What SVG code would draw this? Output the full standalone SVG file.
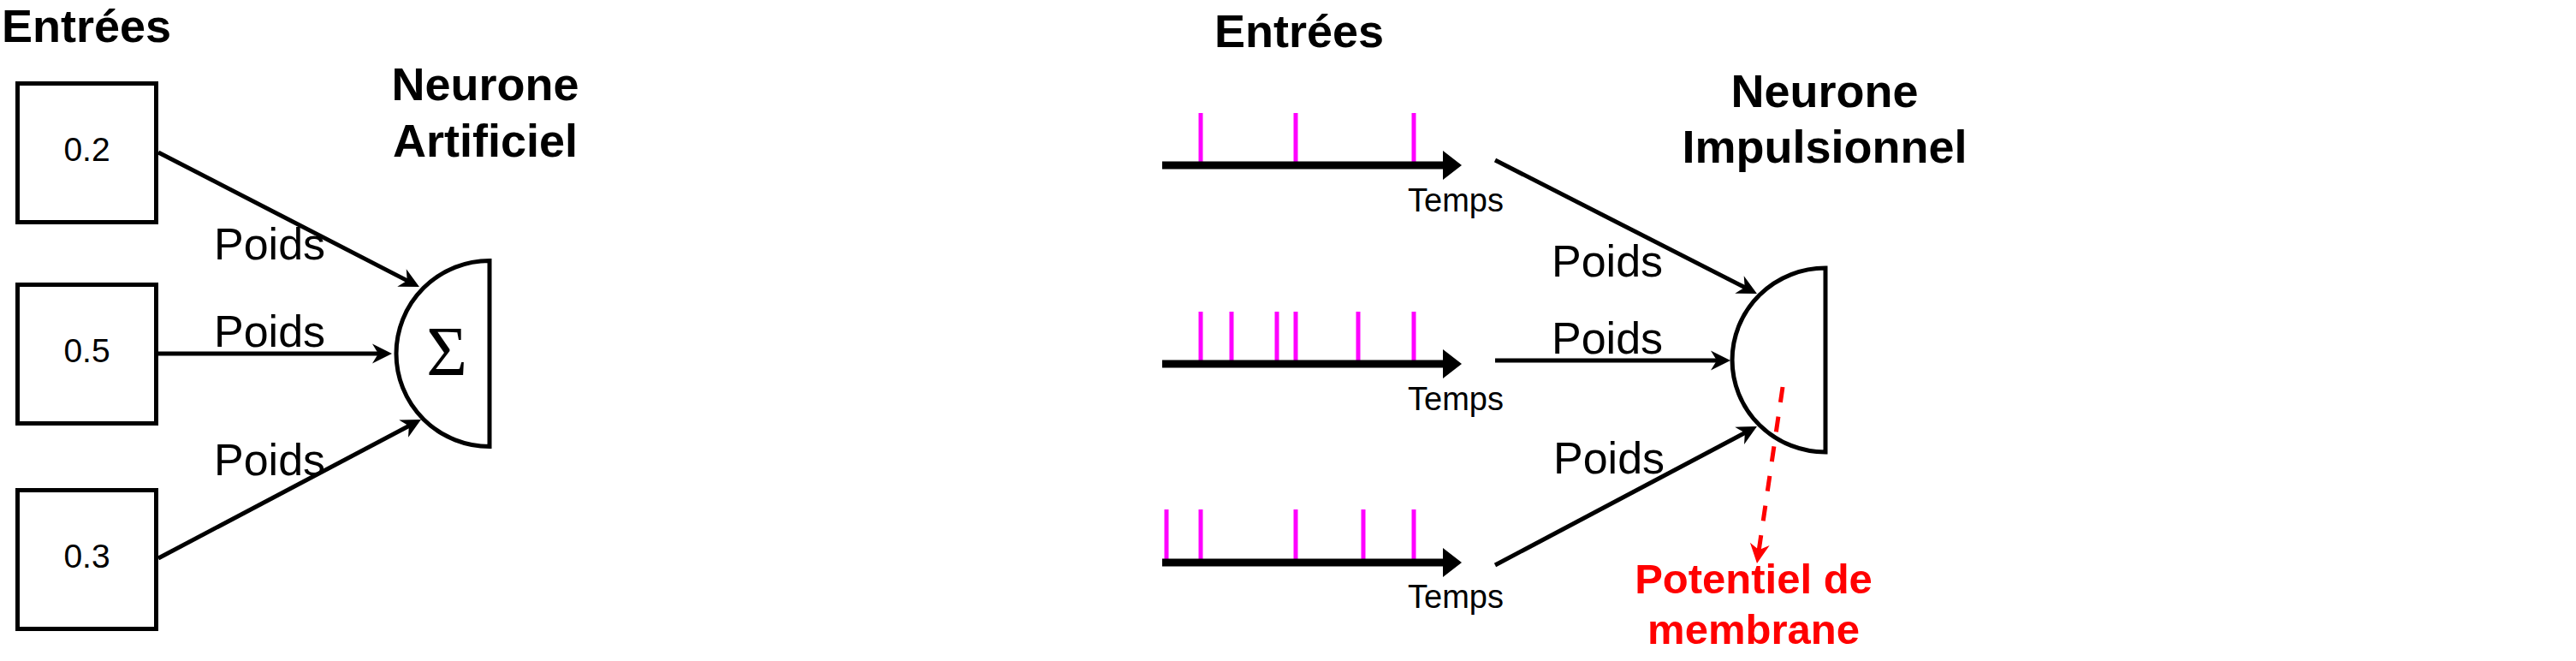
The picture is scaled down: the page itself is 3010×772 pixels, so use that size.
<svg xmlns="http://www.w3.org/2000/svg" width="3010" height="772" viewBox="0 0 3010 772">
<style>
text{font-family:"Liberation Sans",Arial,sans-serif;fill:#000}
.title{font-size:54px;font-weight:bold;text-anchor:middle}
.val{font-size:39px;text-anchor:middle}
.poids{font-size:52px}
.temps{font-size:38px}
.red{font-size:49px;font-weight:bold;fill:#FF0000;text-anchor:middle}
.box{fill:#fff;stroke:#000;stroke-width:5}
.neuron{fill:none;stroke:#000;stroke-width:5;stroke-linejoin:miter}
.conn{stroke:#000;stroke-width:5;fill:none;marker-end:url(#arr)}
.axis{stroke:#000;stroke-width:9;fill:none;marker-end:url(#tri)}
.spike{stroke:#FF00FF;stroke-width:5}
.dash{stroke:#FF0000;stroke-width:5;fill:none;stroke-dasharray:18 17;marker-end:url(#arrRed)}
</style>
<defs>
<marker id="arr" markerUnits="userSpaceOnUse" markerWidth="40" markerHeight="40" viewBox="-20 -20 40 40" refX="0" refY="0" orient="auto" overflow="visible">
<path d="M14,0 L-9,-11.5 L-2,0 L-9,11.5 Z" fill="#000"/>
</marker>
<marker id="arrRed" markerUnits="userSpaceOnUse" markerWidth="40" markerHeight="40" viewBox="-20 -20 40 40" refX="0" refY="0" orient="auto" overflow="visible">
<path d="M14,0 L-9,-11.5 L-2,0 L-9,11.5 Z" fill="#FF0000"/>
</marker>
<marker id="tri" markerUnits="userSpaceOnUse" markerWidth="40" markerHeight="40" viewBox="-20 -20 40 40" refX="0" refY="0" orient="auto" overflow="visible">
<path d="M0,-17 L22,0 L0,17 Z" fill="#000"/>
</marker>
</defs>

<!-- Left: artificial neuron -->
<g id="label-entrees-left"><text class="title" x="101" y="49">Entrées</text></g>
<g id="input-02"><rect class="box" x="20.5" y="97.5" width="162" height="162"/><text class="val" x="101.5" y="188">0.2</text></g>
<g id="input-05"><rect class="box" x="20.5" y="332.5" width="162" height="162"/><text class="val" x="101.5" y="423">0.5</text></g>
<g id="input-03"><rect class="box" x="20.5" y="572.5" width="162" height="162"/><text class="val" x="101.5" y="663">0.3</text></g>
<g id="label-neurone-artificiel"><text class="title" x="567" y="117">Neurone</text><text class="title" x="567" y="183">Artificiel</text></g>
<g id="neuron-artificial">
<path class="neuron" d="M572,304.5 A109,108.5 0 0 0 572,521.5 Z"/>
<text x="522" y="438" style="font-family:'Liberation Serif','Times New Roman',serif;font-size:82px;text-anchor:middle">Σ</text>
</g>
<g id="poids-left">
<text class="poids" x="250" y="303">Poids</text>
<text class="poids" x="250" y="405">Poids</text>
<text class="poids" x="250" y="555">Poids</text>
</g>

<!-- Right: spiking neuron -->
<g id="label-entrees-right"><text class="title" x="1518" y="55">Entrées</text></g>
<g id="spike-train-1">
<line class="spike" x1="1403" y1="132" x2="1403" y2="189"/>
<line class="spike" x1="1514" y1="132" x2="1514" y2="189"/>
<line class="spike" x1="1652" y1="132" x2="1652" y2="189"/>
<line class="axis" x1="1358" y1="193" x2="1686" y2="193"/>
<text class="temps" x="1645" y="247">Temps</text>
</g>
<g id="spike-train-2">
<line class="spike" x1="1403" y1="364" x2="1403" y2="421"/>
<line class="spike" x1="1439" y1="364" x2="1439" y2="421"/>
<line class="spike" x1="1492" y1="364" x2="1492" y2="421"/>
<line class="spike" x1="1514" y1="364" x2="1514" y2="421"/>
<line class="spike" x1="1587" y1="364" x2="1587" y2="421"/>
<line class="spike" x1="1652" y1="364" x2="1652" y2="421"/>
<line class="axis" x1="1358" y1="425" x2="1686" y2="425"/>
<text class="temps" x="1645" y="479">Temps</text>
</g>
<g id="spike-train-3">
<line class="spike" x1="1363" y1="595" x2="1363" y2="653"/>
<line class="spike" x1="1403" y1="595" x2="1403" y2="653"/>
<line class="spike" x1="1514" y1="595" x2="1514" y2="653"/>
<line class="spike" x1="1593" y1="595" x2="1593" y2="653"/>
<line class="spike" x1="1652" y1="595" x2="1652" y2="653"/>
<line class="axis" x1="1358" y1="657" x2="1686" y2="657"/>
<text class="temps" x="1645" y="710">Temps</text>
</g>
<g id="label-neurone-impulsionnel"><text class="title" x="2132" y="125">Neurone</text><text class="title" x="2132" y="190">Impulsionnel</text></g>
<g id="neuron-spiking">
<path class="neuron" d="M2133,313 A109,107.5 0 0 0 2133,528 Z"/>
</g>
<g id="poids-right">
<text class="poids" x="1813" y="323">Poids</text>
<text class="poids" x="1813" y="413">Poids</text>
<text class="poids" x="1815" y="553">Poids</text>
</g>
<g id="label-potentiel"><text class="red" x="2049" y="693">Potentiel de</text><text class="red" x="2049" y="752">membrane</text></g>

<g id="connectors">
<line class="conn" x1="185" y1="178" x2="477.5" y2="328.6"/>
<line class="conn" x1="185" y1="413" x2="444" y2="413"/>
<line class="conn" x1="185" y1="652" x2="479.6" y2="496.5"/>
<line class="conn" x1="1747" y1="187" x2="2040.5" y2="336.6"/>
<line class="conn" x1="1747" y1="421" x2="2008" y2="421"/>
<line class="conn" x1="1747" y1="660" x2="2040.6" y2="504.6"/>
<line class="dash" x1="2083" y1="452" x2="2055" y2="644.2"/>
</g>
</svg>
